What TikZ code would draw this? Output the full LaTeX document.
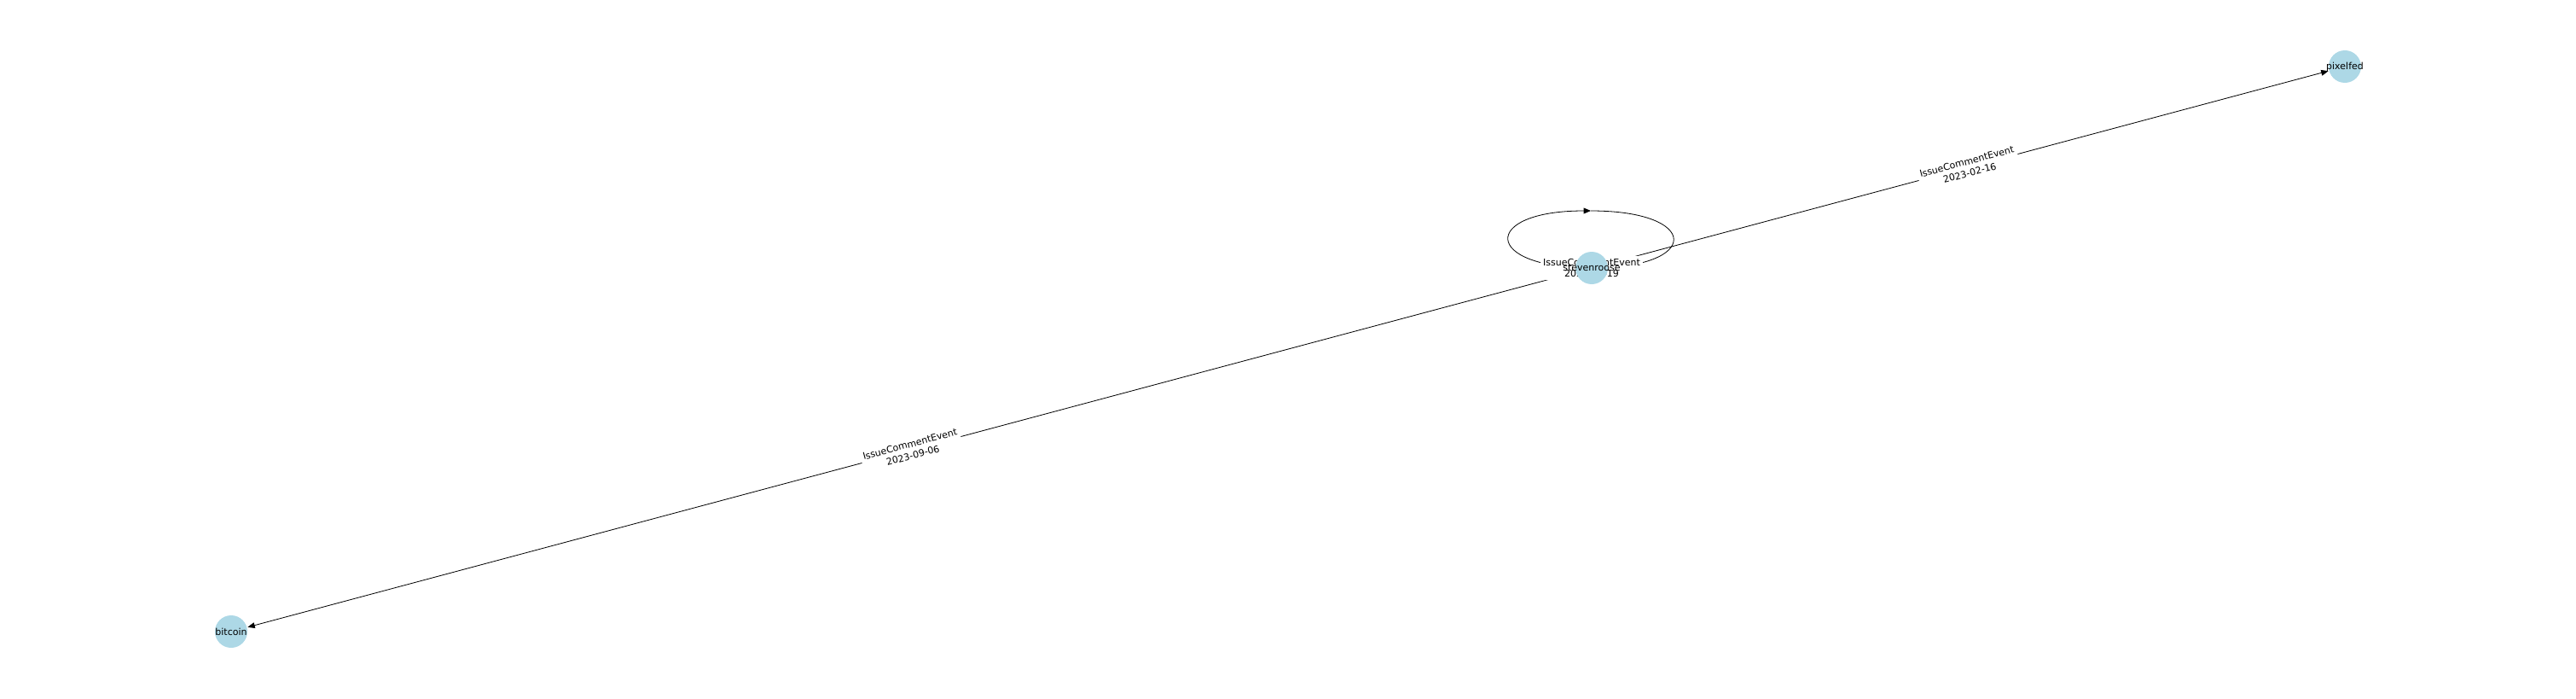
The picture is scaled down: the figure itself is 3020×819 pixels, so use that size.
\documentclass[tikz,border=0pt]{standalone}
\usepackage{fontspec}
\setmainfont{DejaVu Sans}
\usepackage{xcolor}
\usetikzlibrary{arrows.meta,backgrounds}
\definecolor{nodeblue}{HTML}{ADD8E6}

\begin{document}
\begin{tikzpicture}[%
    x=0.5pt,
    y=-0.5pt,
    ->,
    >={Triangle[length=4.2pt,width=3.4pt]},
    line width=1.05pt,
    repo/.style={%
      circle,
      fill=nodeblue,
      inner sep=0pt,
      minimum size=19pt,
      label={[font=\fontsize{5.5}{6.5}\selectfont]center:#1}
    },
    evt/.style={%
      fill=white,
      rounded corners=1.5pt,
      inner sep=1.5pt,
      align=center,
      font=\fontsize{5.5}{6.9}\selectfont
    }
  ]
    \useasboundingbox (0,0) rectangle (3020,819);

    \node[repo=stevenroose] (steven) at (1866,314) {};
    \node[repo=pixelfed]    (pixel)  at (2749,78)  {};
    \node[repo=bitcoin]     (btc)    at (271,740)  {};
    \coordinate (looptop) at (1865,247);

    \begin{scope}[on background layer]
    \path (steven) edge node[evt, sloped] (e1) {IssueCommentEvent\\2023-02-16} (pixel)
          (steven) edge node[evt, sloped] (e2) {IssueCommentEvent\\2023-09-06} (btc)
          ;
    % self loop
    \draw (steven.center) .. controls +(-129,0) and +(-129,0) .. (looptop);
    \draw[-] (looptop) .. controls +(129,0) and +(129,0) .. (steven.center);
    \node[evt] (e0) at (steven.center) {IssueCommentEvent\\2023-01-19};
    \end{scope}
\end{tikzpicture}
\end{document}
